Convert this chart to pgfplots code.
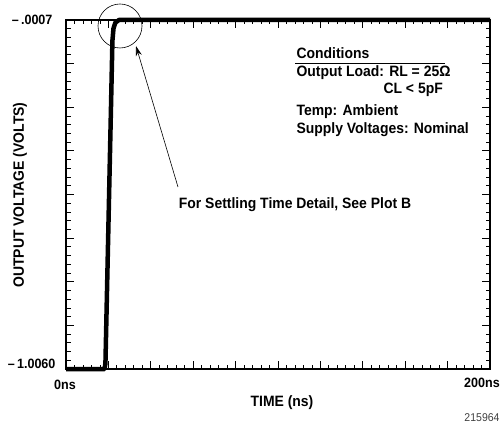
\documentclass[border=0pt]{standalone}
\usepackage{pgfplots}
\pgfplotsset{compat=1.18}
\usepackage{fontspec}
\setmainfont{Liberation Sans}[FakeStretch=0.93]
\usetikzlibrary{arrows.meta}
\begin{document}
\begin{tikzpicture}[font=\fontsize{15}{17}\selectfont\bfseries]
\begin{axis}[
  scale only axis, width=424pt, height=349pt,
  xmin=0, xmax=200, ymin=-1.006, ymax=-0.0007,
  axis line style={line width=1.6pt},
  xtick={0,20,...,200}, minor x tick num=4,
  ytick={-1.006,-0.8803375,-0.754675,-0.6290125,-0.50335,-0.3776875,-0.252025,-0.1263625,-0.0007},
  minor y tick num=4,
  xticklabels={}, yticklabels={},
  tick align=inside,
  major tick length=8pt, minor tick length=4.5pt,
  tick style={line width=0.8pt, black},
  clip=false,
]
\addplot[line width=4.5pt, line join=round, black] coordinates {
 (0,-1.006) (18.2,-1.006) (18.6,-0.99) (21.9,-0.06) (22.4,-0.025) (23.3,-0.008) (25,-0.0007) (200,-0.0007)
};
\end{axis}
\begin{scope}[font=\fontsize{13.5}{15}\selectfont\bfseries]
\node[anchor=east] at (-10pt,349pt) {–\,.0007};
\node[anchor=east] at (-7pt,5pt) {–\,1.0060};
\node at (-1pt,-16pt) {0ns};
\node at (416pt,-14pt) {200ns};
\end{scope}
\node at (216pt,-34pt) {TIME (ns)};
\node[font=\fontsize{11.3}{12}\selectfont\mdseries, text=black!75] at (416pt,-49pt) {215964};
\node[rotate=90] at (-46pt,174pt) {OUTPUT VOLTAGE (VOLTS)};
\node[anchor=west] at (227pt,316pt) {Conditions};
\draw[line width=0.8pt] (229pt,306pt) -- (379pt,306pt);
\node[anchor=west] at (227pt,296pt) {Output Load: RL = 25Ω};
\node[anchor=west] at (314pt,279pt) {CL < 5pF};
\node[anchor=west] at (227pt,257pt) {Temp: Ambient};
\node[anchor=west] at (227pt,239pt) {Supply Voltages: Nominal};
\node at (229pt,164pt) {For Settling Time Detail, See Plot B};
\draw[line width=0.6pt] (54pt,343pt) circle (22pt);
\draw[line width=0.6pt, -{Stealth[length=10pt,width=6pt]}] (112pt,182pt) -- (70pt,323pt);
\pgfresetboundingbox
\path[use as bounding box] (-66pt,-59pt) rectangle (436pt,369pt);
\end{tikzpicture}
\end{document}
